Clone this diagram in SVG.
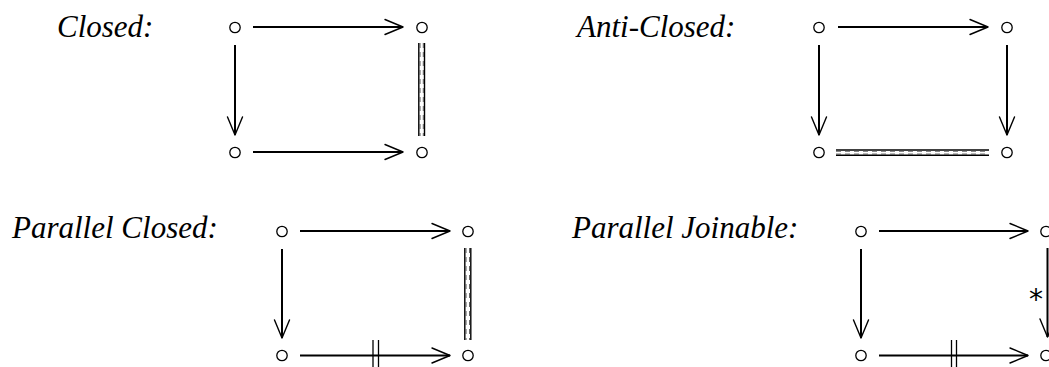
<svg xmlns="http://www.w3.org/2000/svg" width="1049" height="367" viewBox="0 0 1049 367">
  <style>
    .label { font-family: "Liberation Serif", "Times New Roman", serif; font-style: italic; font-size: 31px; fill: #000; }
    .obj { fill: none; stroke: #000; stroke-width: 1.3; }
    .arr { fill: none; stroke: #000; stroke-width: 2; }
    .head { fill: none; stroke: #000; stroke-width: 1.4; stroke-linecap: round; stroke-linejoin: round; }
    .eq { fill: none; stroke: #000; stroke-width: 1.4; }
    .eqd { fill: none; stroke: #555; stroke-width: 1; stroke-dasharray: 5 4; }
    .tick { fill: none; stroke: #000; stroke-width: 1.3; }
    .star { font-family: "DejaVu Sans", sans-serif; font-size: 28px; fill: #000; }
  </style>
  <defs>
    <marker id="vee" markerUnits="userSpaceOnUse" markerWidth="20" markerHeight="16" refX="0" refY="0" orient="auto" overflow="visible">
      <path d="M-18,-7.5 L0,0 L-18,7.5" class="head"/>
    </marker>
  </defs>

  <!-- Closed square -->
  <g id="closed">
    <text class="label" x="57" y="37">Closed:</text>
    <circle class="obj" cx="235" cy="27.5" r="5.2"/>
    <circle class="obj" cx="422" cy="27.5" r="5.2"/>
    <circle class="obj" cx="235" cy="152.5" r="5.2"/>
    <circle class="obj" cx="422" cy="152.5" r="5.2"/>
  </g>

  <!-- Anti-Closed square -->
  <g id="anti-closed">
    <text class="label" x="577" y="37">Anti-Closed:</text>
    <circle class="obj" cx="819" cy="27.5" r="5.2"/>
    <circle class="obj" cx="1007" cy="27.5" r="5.2"/>
    <circle class="obj" cx="819" cy="152.5" r="5.2"/>
    <circle class="obj" cx="1007" cy="152.5" r="5.2"/>
  </g>

  <!-- Parallel Closed square -->
  <g id="parallel-closed">
    <text class="label" x="12" y="238">Parallel Closed:</text>
    <circle class="obj" cx="282" cy="231.5" r="5.2"/>
    <circle class="obj" cx="468" cy="231.5" r="5.2"/>
    <circle class="obj" cx="282" cy="355.5" r="5.2"/>
    <circle class="obj" cx="468" cy="355.5" r="5.2"/>
  </g>

  <!-- Parallel Joinable square -->
  <g id="parallel-joinable">
    <text class="label" x="572" y="238">Parallel Joinable:</text>
    <circle class="obj" cx="861" cy="231.5" r="5.2"/>
    <circle class="obj" cx="1046" cy="231.5" r="5.2"/>
    <circle class="obj" cx="861" cy="355.5" r="5.2"/>
    <circle class="obj" cx="1046" cy="355.5" r="5.2"/>
  </g>

  <g id="connectors">
    <!-- Closed -->
    <line class="arr" x1="253" y1="27" x2="403" y2="27" marker-end="url(#vee)"/>
    <line class="arr" x1="235" y1="45" x2="235" y2="135" marker-end="url(#vee)"/>
    <line class="arr" x1="253" y1="152" x2="403" y2="152" marker-end="url(#vee)"/>
    <line class="eq" x1="418.8" y1="43" x2="418.8" y2="136"/>
    <line class="eq" x1="424.5" y1="43" x2="424.5" y2="136"/>
    <line class="eqd" x1="420" y1="43" x2="420" y2="136"/>
    <line class="eqd" x1="423.3" y1="43" x2="423.3" y2="136"/>

    <!-- Anti-Closed -->
    <line class="arr" x1="838" y1="27" x2="988" y2="27" marker-end="url(#vee)"/>
    <line class="arr" x1="819" y1="45" x2="819" y2="135" marker-end="url(#vee)"/>
    <line class="arr" x1="1007" y1="45" x2="1007" y2="135" marker-end="url(#vee)"/>
    <line class="eq" x1="836" y1="150" x2="989" y2="150"/>
    <line class="eq" x1="836" y1="155.3" x2="989" y2="155.3"/>
    <line class="eqd" x1="836" y1="151.2" x2="989" y2="151.2"/>
    <line class="eqd" x1="836" y1="154.1" x2="989" y2="154.1"/>

    <!-- Parallel Closed -->
    <line class="arr" x1="300" y1="231" x2="450" y2="231" marker-end="url(#vee)"/>
    <line class="arr" x1="282" y1="249" x2="282" y2="338" marker-end="url(#vee)"/>
    <line class="arr" x1="300" y1="355.5" x2="450" y2="355.5" marker-end="url(#vee)"/>
    <line class="tick" x1="373" y1="340" x2="373" y2="370"/>
    <line class="tick" x1="378.5" y1="340" x2="378.5" y2="370"/>
    <line class="eq" x1="464.8" y1="248" x2="464.8" y2="340"/>
    <line class="eq" x1="470.8" y1="248" x2="470.8" y2="340"/>
    <line class="eqd" x1="466" y1="248" x2="466" y2="340"/>
    <line class="eqd" x1="469.6" y1="248" x2="469.6" y2="340"/>

    <!-- Parallel Joinable -->
    <line class="arr" x1="879" y1="231" x2="1028" y2="231" marker-end="url(#vee)"/>
    <line class="arr" x1="861" y1="249" x2="861" y2="338" marker-end="url(#vee)"/>
    <line class="arr" x1="1047.5" y1="248" x2="1047.5" y2="337" marker-end="url(#vee)"/>
    <line class="arr" x1="879" y1="355.5" x2="1028" y2="355.5" marker-end="url(#vee)"/>
    <line class="tick" x1="951.5" y1="340" x2="951.5" y2="370"/>
    <line class="tick" x1="956.5" y1="340" x2="956.5" y2="370"/>
    <text class="star" x="1036" y="309" text-anchor="middle">*</text>
  </g>
</svg>
